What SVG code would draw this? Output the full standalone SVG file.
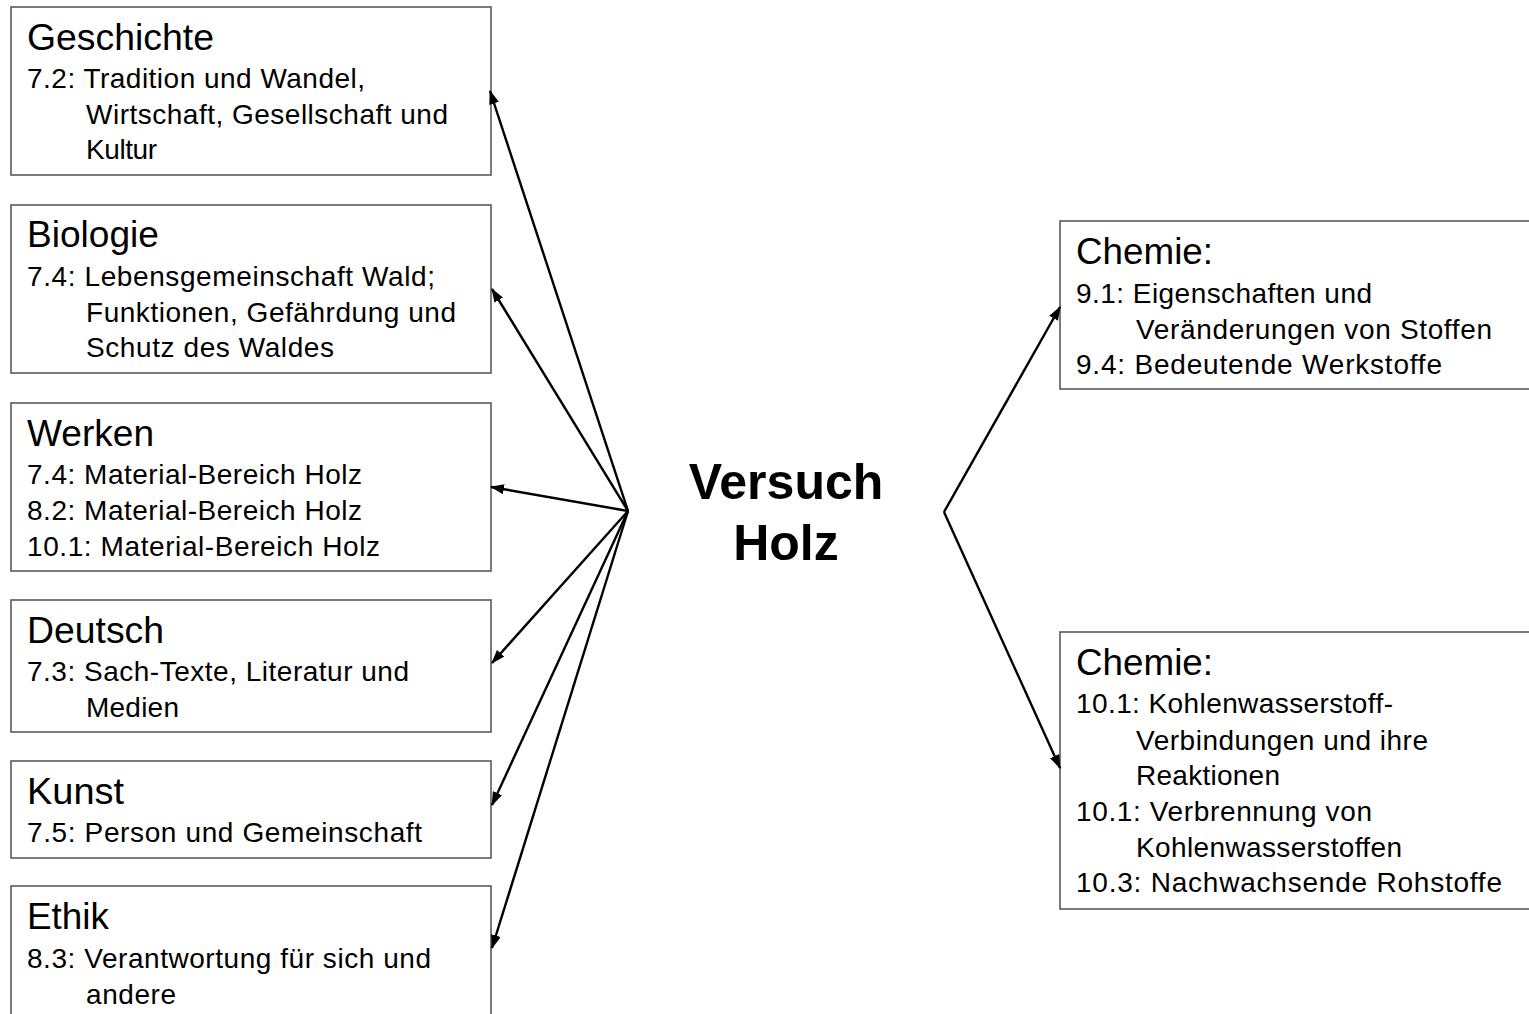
<svg xmlns="http://www.w3.org/2000/svg" width="1529" height="1014" viewBox="0 0 1529 1014">
<defs>
<style>
.box{fill:#fff;stroke:#5a5a5a;stroke-width:1.6}
.t{font-family:"Liberation Sans",Arial,sans-serif;font-size:36px;fill:#000}
.b{font-family:"Liberation Sans",Arial,sans-serif;font-size:28px;fill:#000}
.c{font-family:"Liberation Sans",Arial,sans-serif;font-size:50px;font-weight:bold;fill:#000;text-anchor:middle}
.e{stroke:#000;stroke-width:2.4;fill:none}
</style>
<marker id="ah" viewBox="0 0 14 10" refX="13" refY="5" markerWidth="14" markerHeight="10" markerUnits="userSpaceOnUse" orient="auto">
<path d="M0,0 L14,5 L0,10 z" fill="#000"/>
</marker>
</defs>
<rect width="1529" height="1014" fill="#fff"/>
<g id="n-geschichte">
<rect class="box" x="11" y="7" width="480" height="168"/>
<text class="t" x="27" y="50" textLength="187" lengthAdjust="spacingAndGlyphs">Geschichte</text>
<text class="b" x="27" y="88" textLength="338" lengthAdjust="spacing">7.2: Tradition und Wandel,</text>
<text class="b" x="86" y="124" textLength="362" lengthAdjust="spacing">Wirtschaft, Gesellschaft und</text>
<text class="b" x="86" y="159" textLength="71" lengthAdjust="spacing">Kultur</text>
</g>
<g id="n-biologie">
<rect class="box" x="11" y="205" width="480" height="168"/>
<text class="t" x="27" y="247" textLength="132" lengthAdjust="spacingAndGlyphs">Biologie</text>
<text class="b" x="27" y="286" textLength="408" lengthAdjust="spacing">7.4: Lebensgemeinschaft Wald;</text>
<text class="b" x="86" y="322" textLength="370" lengthAdjust="spacing">Funktionen, Gefährdung und</text>
<text class="b" x="86" y="357" textLength="248" lengthAdjust="spacing">Schutz des Waldes</text>
</g>
<g id="n-werken">
<rect class="box" x="11" y="403" width="480" height="168"/>
<text class="t" x="27" y="446" textLength="127" lengthAdjust="spacingAndGlyphs">Werken</text>
<text class="b" x="27" y="484" textLength="335" lengthAdjust="spacing">7.4: Material-Bereich Holz</text>
<text class="b" x="27" y="520" textLength="335" lengthAdjust="spacing">8.2: Material-Bereich Holz</text>
<text class="b" x="27" y="556" textLength="353" lengthAdjust="spacing">10.1: Material-Bereich Holz</text>
</g>
<g id="n-deutsch">
<rect class="box" x="11" y="600" width="480" height="132"/>
<text class="t" x="27" y="643" textLength="137" lengthAdjust="spacingAndGlyphs">Deutsch</text>
<text class="b" x="27" y="681" textLength="382" lengthAdjust="spacing">7.3: Sach-Texte, Literatur und</text>
<text class="b" x="86" y="717" textLength="93" lengthAdjust="spacing">Medien</text>
</g>
<g id="n-kunst">
<rect class="box" x="11" y="761" width="480" height="97"/>
<text class="t" x="27" y="804" textLength="97" lengthAdjust="spacingAndGlyphs">Kunst</text>
<text class="b" x="27" y="842" textLength="395" lengthAdjust="spacing">7.5: Person und Gemeinschaft</text>
</g>
<g id="n-ethik">
<rect class="box" x="11" y="886" width="480" height="140"/>
<text class="t" x="27" y="929" textLength="82" lengthAdjust="spacingAndGlyphs">Ethik</text>
<text class="b" x="27" y="968" textLength="404" lengthAdjust="spacing">8.3: Verantwortung für sich und</text>
<text class="b" x="86" y="1004" textLength="90" lengthAdjust="spacing">andere</text>
</g>
<g id="n-center">
<text class="c" x="786" y="499">Versuch</text>
<text class="c" x="786" y="560">Holz</text>
</g>
<g id="n-chemie1">
<rect class="box" x="1060" y="221" width="480" height="168"/>
<text class="t" x="1076" y="264" textLength="137" lengthAdjust="spacingAndGlyphs">Chemie:</text>
<text class="b" x="1076" y="303" textLength="296" lengthAdjust="spacing">9.1: Eigenschaften und</text>
<text class="b" x="1136" y="339" textLength="356" lengthAdjust="spacing">Veränderungen von Stoffen</text>
<text class="b" x="1076" y="374" textLength="366" lengthAdjust="spacing">9.4: Bedeutende Werkstoffe</text>
</g>
<g id="n-chemie2">
<rect class="box" x="1060" y="632" width="480" height="277"/>
<text class="t" x="1076" y="675" textLength="137" lengthAdjust="spacingAndGlyphs">Chemie:</text>
<text class="b" x="1076" y="713" textLength="317" lengthAdjust="spacing">10.1: Kohlenwasserstoff-</text>
<text class="b" x="1136" y="750" textLength="292" lengthAdjust="spacing">Verbindungen und ihre</text>
<text class="b" x="1136" y="785" textLength="144" lengthAdjust="spacing">Reaktionen</text>
<text class="b" x="1076" y="821" textLength="296" lengthAdjust="spacing">10.1: Verbrennung von</text>
<text class="b" x="1136" y="857" textLength="266" lengthAdjust="spacing">Kohlenwasserstoffen</text>
<text class="b" x="1076" y="892" textLength="426" lengthAdjust="spacing">10.3: Nachwachsende Rohstoffe</text>
</g>
<g id="connectors">
<line class="e" x1="628" y1="511" x2="490" y2="91" marker-end="url(#ah)"/>
<line class="e" x1="628" y1="511" x2="492" y2="289" marker-end="url(#ah)"/>
<line class="e" x1="628" y1="511" x2="491" y2="487" marker-end="url(#ah)"/>
<line class="e" x1="628" y1="511" x2="492" y2="663" marker-end="url(#ah)"/>
<line class="e" x1="628" y1="511" x2="492" y2="805" marker-end="url(#ah)"/>
<line class="e" x1="628" y1="511" x2="492" y2="948" marker-end="url(#ah)"/>
<line class="e" x1="944" y1="512" x2="1060" y2="307" marker-end="url(#ah)"/>
<line class="e" x1="944" y1="512" x2="1060" y2="768" marker-end="url(#ah)"/>
</g>
</svg>
